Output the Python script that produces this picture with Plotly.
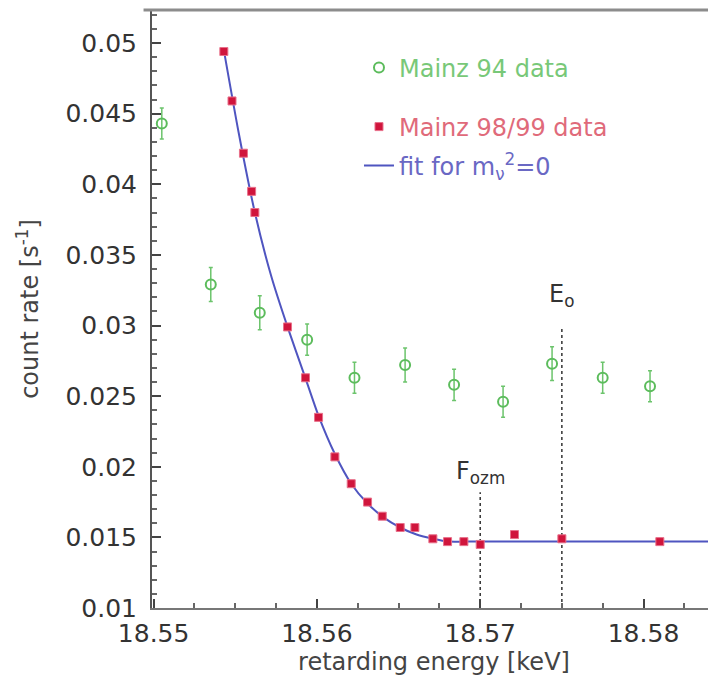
import plotly.graph_objects as go

# ---------------- data ----------------
# Mainz 98/99 data (red squares)
mainz98_E = [18.5543, 18.5548, 18.5555, 18.5560, 18.5562, 18.5582, 18.5593, 18.5601,
             18.5611, 18.5621, 18.5631, 18.5640, 18.5651, 18.5660, 18.5671, 18.5680,
             18.5690, 18.5700, 18.5721, 18.5750, 18.5810]
mainz98_rate = [0.0494, 0.0459, 0.0422, 0.0395, 0.0380, 0.0299, 0.0263, 0.0235,
                0.0207, 0.0188, 0.0175, 0.0165, 0.0157, 0.0157, 0.0149, 0.0147,
                0.0147, 0.0145, 0.0152, 0.0149, 0.0147]

# Mainz 94 data (green open circles with error bars)
mainz94_E = [18.5505, 18.5535, 18.5565, 18.5594, 18.5623, 18.5654, 18.5684,
             18.5714, 18.5744, 18.5775, 18.5804]
mainz94_rate = [0.0443, 0.0329, 0.0309, 0.0290, 0.0263, 0.0272, 0.0258,
                0.0246, 0.0273, 0.0263, 0.0257]
mainz94_err = [0.0011, 0.0012, 0.0012, 0.0011, 0.0011, 0.0012, 0.0011,
               0.0011, 0.0012, 0.0011, 0.0011]

# fit for m_nu^2 = 0 (blue curve)
fit_E = [18.5543, 18.5552, 18.5562, 18.5572, 18.5582, 18.5592, 18.5601, 18.5611,
         18.5621, 18.5631, 18.5641, 18.5651, 18.5661, 18.5671, 18.5681, 18.5691,
         18.5701, 18.5845]
fit_rate = [0.0495, 0.0437, 0.0380, 0.0335, 0.0299, 0.0266, 0.0236, 0.0209,
            0.0188, 0.0174, 0.0164, 0.0157, 0.0152, 0.0149, 0.0147, 0.0147,
            0.0147, 0.0147]

# marker lines
F_pos = 18.5700
F_top = 0.0182
E0_pos = 18.5750
E0_top = 0.0299

y_tickvals = [0.01, 0.015, 0.02, 0.025, 0.03, 0.035, 0.04, 0.045, 0.05]
y_ticktext = ["0.01", "0.015", "0.02", "0.025", "0.03", "0.035", "0.04", "0.045", "0.05"]
x_tickvals = [18.55, 18.56, 18.57, 18.58]
x_ticktext = ["18.55", "18.56", "18.57", "18.58"]

x_range = [18.5499, 18.58444]
y_range = [0.01, 0.05234]

# ---------------- figure ----------------
FONT = "DejaVu Sans"
GRAY = "#4a4a4a"

fig = go.Figure()

# vertical dotted lines
fig.add_trace(go.Scatter(x=[F_pos, F_pos], y=[y_range[0], F_top], mode="lines",
                         line=dict(color="#333333", width=1.5, dash="dot"),
                         showlegend=False, hoverinfo="skip"))
fig.add_trace(go.Scatter(x=[E0_pos, E0_pos], y=[y_range[0], E0_top], mode="lines",
                         line=dict(color="#333333", width=1.5, dash="dot"),
                         showlegend=False, hoverinfo="skip"))

fig.add_trace(go.Scatter(
    x=mainz94_E, y=mainz94_rate, mode="markers",
    error_y=dict(type="data", array=mainz94_err, color="#6cc46c", thickness=1.5, width=2),
    marker=dict(symbol="circle-open", size=10, color="#5cbc5c", line=dict(width=2)),
    name='<span style="color:#78c878">Mainz 94 data</span>', legend="legend"))

fig.add_trace(go.Scatter(
    x=fit_E, y=fit_rate, mode="lines", line=dict(color="#4f55c0", width=2, shape="spline", smoothing=0.6),
    name='<span style="color:#6a68c4">fit for m<sub>ν</sub><sup>2</sup>=0</span>', legend="legend3"))

fig.add_trace(go.Scatter(
    x=mainz98_E, y=mainz98_rate, mode="markers",
    marker=dict(symbol="square", size=8, color="#d0153c", line=dict(color="#e8708a", width=1)),
    name='<span style="color:#e06a7a">Mainz 98/99 data</span>', legend="legend2"))

legend_common = dict(font=dict(family=FONT, size=24), bgcolor="rgba(0,0,0,0)",
                     xanchor="left", yanchor="middle", itemwidth=30)

# page body has an 8px margin: compensate so the plot area sits at x=152..716, y=10..608
fig.update_layout(
    width=716, height=677,
    margin=dict(l=144, r=8, t=2, b=77),
    paper_bgcolor="white", plot_bgcolor="white",
    font=dict(family=FONT, color=GRAY),
    legend=dict(x=0.367, y=1 - (68 - 10) / 598, **legend_common),
    legend2=dict(x=0.367, y=1 - (127 - 10) / 598, **legend_common),
    legend3=dict(x=0.367, y=1 - (166 - 10) / 598, **legend_common),
    xaxis=dict(range=x_range, tickvals=x_tickvals, ticktext=x_ticktext,
               ticks="inside", ticklen=9, tickwidth=1.5, tickcolor="#444",
               minor=dict(dtick=0.0025, ticks="inside", ticklen=5, tickcolor="#666", tick0=18.55),
               showline=True, linecolor="#777", linewidth=2,
               showgrid=False, zeroline=False,
               tickfont=dict(family=FONT, size=25, color="#333"),
               ticklabelstandoff=2,
               title=dict(text="retarding energy [keV]", font=dict(family=FONT, size=24, color="#444"),
                          standoff=2)),
    yaxis=dict(range=y_range, tickvals=y_tickvals, ticktext=y_ticktext,
               ticks="inside", ticklen=9, tickwidth=1.5, tickcolor="#444",
               minor=dict(dtick=0.001, ticks="inside", ticklen=5, tickcolor="#666", tick0=0.01),
               showline=True, linecolor="#555", linewidth=2,
               showgrid=False, zeroline=False,
               tickfont=dict(family=FONT, size=25, color="#333"),
               ticklabelstandoff=8,
               title=dict(text="count rate [s<sup>-1</sup>]", font=dict(family=FONT, size=24, color="#444"),
                          standoff=20)),
    shapes=[dict(type="line", xref="paper", yref="paper", x0=-0.015, x1=1.02, y0=1, y1=1,
                 line=dict(color="#8c8c8c", width=3))],
    annotations=[
        dict(x=E0_pos, y=0.0321, xref="x", yref="y", text="E<sub>o</sub>", showarrow=False,
             font=dict(family=FONT, size=24, color="#333"), xanchor="center", yanchor="middle"),
        dict(x=F_pos, y=0.0196, xref="x", yref="y", text="F<sub>ozm</sub>", showarrow=False,
             font=dict(family=FONT, size=24, color="#333"), xanchor="center", yanchor="middle"),
    ],
)

fig.write_html("out.html")
